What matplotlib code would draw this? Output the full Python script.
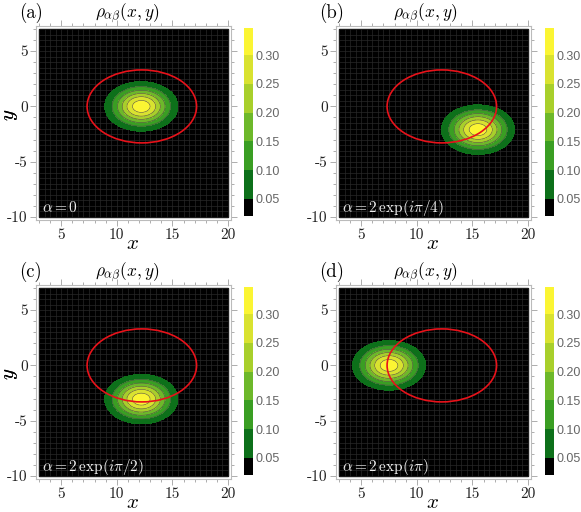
import numpy as np
import matplotlib
matplotlib.use("Agg")
import matplotlib.pyplot as plt
from matplotlib.colors import ListedColormap, BoundaryNorm
from matplotlib.patches import Ellipse, Rectangle
import matplotlib.colorbar as mcolorbar

plt.rcParams["mathtext.fontset"] = "cm"
plt.rcParams["axes.unicode_minus"] = False

# panel data
panel_tags = ["(a)", "(b)", "(c)", "(d)"]
alpha_labels = [r"$\alpha = 0$", r"$\alpha = 2\,\exp(i\pi/4)$",
                r"$\alpha = 2\,\exp(i\pi/2)$", r"$\alpha = 2\,\exp(i\pi)$"]
blob_x = [12.2, 15.5, 12.2, 7.5]      # centre of density peak
blob_y = [0.0, -2.1, -3.05, 0.0]
peak = 0.335
sig_x = 1.69
sig_y = 1.15

# red reference ellipse (same in every panel)
ring_x, ring_y = 12.25, 0.0
ring_w, ring_h = 9.85, 6.6

levels = [0.05, 0.10, 0.15, 0.20, 0.25, 0.30, 0.40]
cbar_bounds = [0.02, 0.05, 0.10, 0.15, 0.20, 0.25, 0.30, 0.347]
cbar_ticks = [0.05, 0.10, 0.15, 0.20, 0.25, 0.30]
band_colors = ["#000000", "#0d701a", "#3a9e23", "#6db82a", "#a8cf2b", "#d9e230", "#fbf533"]

xticks = [5, 10, 15, 20]
yticks = [-10, -5, 0, 5]

W, H = 581, 512
fig = plt.figure(figsize=(W / 100, H / 100), dpi=100)

def fx(p):
    return p / W

def fy(p):
    return 1 - p / H

# pixel layout: (frame left, frame top, colorbar left, colorbar top)
lay = [(36, 26, 244, 28), (336, 26, 545, 28), (36, 285, 244, 287), (336, 285, 545, 287)]
title_cx = [127, 425, 127, 425]

cmap = ListedColormap(band_colors)
xs = np.linspace(3, 20, 400)
ys = np.linspace(-10, 7, 400)
X, Y = np.meshgrid(xs, ys)
pad = 3 * 17 / 189

for i in range(4):
    l, t, cl, ct = lay[i]
    ax = fig.add_axes([fx(l), fy(t + 194), 195 / W, 194 / H])

    # black plot area with a faint mesh underneath the density
    ax.add_patch(Rectangle((3, -10), 17, 17, color="black", zorder=0))
    grid = np.arange(3, 20.01, 0.5)
    ax.vlines(grid, -10, 7, colors="#282828", linewidth=0.5, zorder=0.5)
    grid = np.arange(-10, 7.01, 0.5)
    ax.hlines(grid, 3, 20, colors="#282828", linewidth=0.5, zorder=0.5)

    rho = peak * np.exp(-((X - blob_x[i]) ** 2 / (2 * sig_x ** 2) + (Y - blob_y[i]) ** 2 / (2 * sig_y ** 2)))
    ax.contourf(X, Y, rho, levels=levels, colors=band_colors[1:], zorder=1)
    ax.contour(X, Y, rho, levels=levels[1:-1], colors="#4a4a4a", linewidths=0.4, zorder=1.5)

    ax.add_patch(Ellipse((ring_x, ring_y), ring_w, ring_h, fill=False, ec="#e8121a", lw=1.2, zorder=2))

    ax.set_xlim(3 - pad, 20 + pad)
    ax.set_ylim(-10 - pad, 7 + pad)
    ax.set_xticks(xticks)
    ax.set_xticklabels([str(v) for v in xticks], fontfamily="cmr10", fontsize=11, color="#222222")
    ax.set_yticks(yticks)
    ax.set_yticklabels([str(v) for v in yticks], fontfamily="cmr10", fontsize=11, color="#222222")
    ax.set_xticks(np.arange(3, 21, 1), minor=True)
    ax.set_yticks(np.arange(-10, 8, 1), minor=True)
    ax.tick_params(which="both", direction="out", color="#a0a0a0", width=0.6,
                   top=True, right=True)
    ax.tick_params(which="major", length=4, pad=2)
    ax.tick_params(which="minor", length=2.5)
    for s in ax.spines.values():
        s.set_color("#bbbbbb")
        s.set_linewidth(0.8)

    ax.text(0.03, 0.062, alpha_labels[i], transform=ax.transAxes, color="#eeeeee",
            fontsize=11, va="center", ha="left", zorder=3)

    fig.text(fx(l + 97), fy(t + 217), r"$x$", fontsize=15, ha="center", va="center")
    fig.text(fx(10), fy(t + 89), r"$y$", fontsize=15, ha="center", va="center", rotation=90)
    fig.text(fx(title_cx[i]), fy(t - 12), r"$\rho_{\alpha\beta}(x,y)$", fontsize=12.5,
             ha="center", va="center")
    fig.text(fx(l - 17), fy(t - 13), panel_tags[i], fontfamily="cmr10", fontsize=13.5,
             ha="left", va="center")

    cax = fig.add_axes([fx(cl), fy(ct + 188), 9 / W, 188 / H])
    cb = mcolorbar.ColorbarBase(cax, cmap=cmap, norm=BoundaryNorm(cbar_bounds, cmap.N),
                                boundaries=cbar_bounds, ticks=cbar_ticks, spacing="proportional")
    cb.outline.set_visible(False)
    cax.minorticks_off()
    cax.set_yticklabels(["%.2f" % v for v in cbar_ticks])
    cax.tick_params(which="both", length=0, pad=2, labelsize=9, labelcolor="#666666")
    for lab in cax.get_yticklabels():
        lab.set_fontfamily("Liberation Sans")

fig.savefig("out.png", dpi=100)
